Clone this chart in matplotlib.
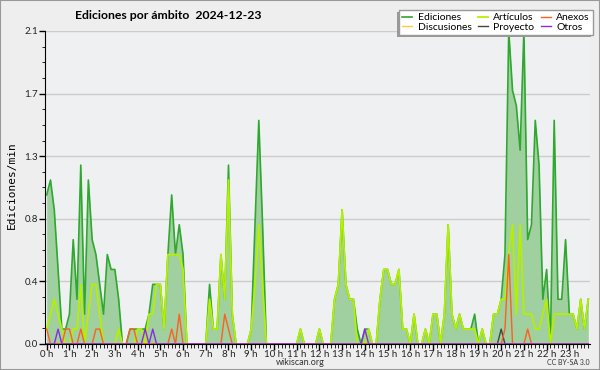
import numpy as np
import matplotlib
matplotlib.use("Agg")
import matplotlib.pyplot as plt
from matplotlib.patches import Rectangle
from matplotlib.transforms import IdentityTransform

# edits per minute, one value every 10 minutes (144 slots)
ediciones = [
    1.0, 1.1, 0.9, 0.5, 0.1, 0.1,
    0.2, 0.7, 0.3, 1.2, 0.2, 1.1,
    0.7, 0.6, 0.4, 0.2, 0.6, 0.5,
    0.5, 0.3, 0, 0, 0.1, 0.1,
    0.1, 0.1, 0.1, 0.2, 0.4, 0.4,
    0.4, 0.1, 0.6, 1.0, 0.6, 0.8,
    0.6, 0, 0, 0, 0, 0,
    0, 0.4, 0.1, 0.1, 0.6, 0.3,
    1.2, 0.2, 0, 0, 0, 0,
    0.1, 0.8, 1.5, 0.8, 0, 0,
    0, 0, 0, 0, 0, 0,
    0, 0.1, 0, 0, 0, 0,
    0.1, 0, 0, 0, 0.3, 0.4,
    0.9, 0.4, 0.3, 0.3, 0.1, 0,
    0.1, 0.1, 0, 0, 0.3, 0.5,
    0.5, 0.4, 0.4, 0.5, 0.1, 0.1,
    0, 0.2, 0, 0, 0.1, 0,
    0.2, 0.2, 0, 0.2, 0.8, 0.2,
    0.1, 0.2, 0.1, 0.1, 0.1, 0.2,
    0, 0.1, 0, 0, 0.2, 0.2,
    0.3, 0.6, 2.1, 1.7, 1.6, 1.3,
    2.1, 0.7, 0.8, 1.5, 1.2, 0.3,
    0.5, 0, 1.5, 0.3, 0.3, 0.7,
    0.2, 0.2, 0.1, 0.3, 0.1, 0.3,
]
articulos = [
    0.1, 0.2, 0.3, 0.2, 0.1, 0,
    0, 0.1, 0.1, 0.4, 0, 0.2,
    0.4, 0.4, 0.2, 0, 0, 0,
    0, 0.1, 0, 0, 0, 0,
    0.1, 0.1, 0, 0.2, 0.2, 0.4,
    0.4, 0.1, 0.6, 0.6, 0.6, 0.6,
    0.5, 0, 0, 0, 0, 0,
    0, 0.3, 0.1, 0.1, 0.6, 0.3,
    1.1, 0.2, 0, 0, 0, 0,
    0.1, 0.4, 0.8, 0.4, 0, 0,
    0, 0, 0, 0, 0, 0,
    0, 0.1, 0, 0, 0, 0,
    0.1, 0, 0, 0, 0.3, 0.4,
    0.9, 0.4, 0.3, 0.3, 0, 0,
    0, 0.1, 0, 0, 0.3, 0.5,
    0.5, 0.4, 0.4, 0.5, 0.1, 0.1,
    0, 0.2, 0, 0, 0.1, 0,
    0.2, 0.2, 0, 0.2, 0.8, 0.2,
    0.1, 0.2, 0.1, 0.1, 0.1, 0.1,
    0, 0.1, 0, 0, 0.2, 0.2,
    0.3, 0.3, 0.6, 0.8, 0.2, 0.8,
    0.2, 0.2, 0.2, 0.1, 0.1, 0.2,
    0.3, 0, 0.2, 0.2, 0.2, 0.2,
    0.2, 0.2, 0.1, 0.3, 0.1, 0.3,
]
# sparse series: slot index -> value
anexos_pts = {0: 0.1, 5: 0.1, 6: 0.1, 9: 0.1, 13: 0.1, 14: 0.1, 22: 0.1, 23: 0.1,
              33: 0.1, 35: 0.2, 47: 0.2, 48: 0.1, 121: 0.1, 122: 0.6, 127: 0.1}
otros_pts = {3: 0.1, 26: 0.1, 28: 0.1, 84: 0.1}
proyecto_pts = {120: 0.1}
discusiones_pts = {}

hour_labels = [f"{h} h" for h in range(24)]
y_ticks = [0, 0.42, 0.84, 1.26, 1.68, 2.1]

n = len(ediciones)
x = np.arange(n)

def sparse(pts):
    s = np.zeros(n)
    for k, v in pts.items():
        s[k] = v
    return s

anexos = sparse(anexos_pts)
otros = sparse(otros_pts)
proyecto = sparse(proyecto_pts)
discusiones = sparse(discusiones_pts)

plt.rcParams["font.family"] = ["Lato", "DejaVu Sans"]

fig = plt.figure(figsize=(6, 3.7), dpi=100, facecolor="#eeeeee")
ax = fig.add_axes([0.075, 0.0703, 0.908, 0.846])
ax.set_facecolor("#eff0f1")

ax.fill_between(x, ediciones, color="#a0cfa0", lw=0, zorder=2)
ax.plot(x, ediciones, color="#2fa82f", lw=1.2, zorder=3, label="Ediciones")
ax.plot(x, discusiones, color="#ffcc33", lw=1.0, zorder=3, label="Discusiones")
ax.plot(x, articulos, color="#b4f000", lw=1.3, zorder=4, label="Artículos")
ax.plot(x, proyecto, color="#444444", lw=1.0, zorder=5, label="Proyecto")
ax.plot(x, anexos, color="#ff5f1f", lw=1.0, zorder=5, label="Anexos")
ax.plot(x, otros, color="#8a2be2", lw=1.0, zorder=5, label="Otros")

ax.set_xlim(-0.45, 143.4)
ax.set_ylim(0, 2.1)
ax.set_yticks(y_ticks)
ax.set_yticklabels([f"{v:.1f}" for v in y_ticks])
ax.set_yticks(np.arange(0, 2.1001, 0.105), minor=True)
ax.set_xticks(np.arange(0, 144, 6))
ax.set_xticklabels(hour_labels)
ax.set_xticks(x, minor=True)
ax.grid(axis="y", color="#cccccc", lw=1, zorder=1)
ax.tick_params(axis="both", which="major", labelsize=7, length=4, width=1, pad=1,
               labelcolor="#222222")
ax.tick_params(axis="x", which="major", pad=0.5)
ax.tick_params(axis="y", which="minor", length=2)
ax.tick_params(axis="x", which="minor", length=3)
for side in ("top", "right"):
    ax.spines[side].set_visible(False)

fig.text(0.125, 0.957, "Ediciones por ámbito  2024-12-23", fontsize=8.8,
         fontweight="bold", va="center", ha="left")
fig.text(0.02, 0.5, "Ediciones/min", rotation=90, fontsize=8,
         family="DejaVu Sans Mono", va="center", ha="center")
fig.text(0.5, 0.021, "wikiscan.org", fontsize=6.5, color="#333333",
         ha="center", va="center")
fig.text(0.982, 0.02, "CC BY-SA 3.0", fontsize=5, color="#333333",
         ha="right", va="center")

leg = ax.legend(ncol=3, loc="upper right", bbox_to_anchor=(0.988, 0.973),
                bbox_transform=fig.transFigure, borderaxespad=0, fontsize=7.5,
                frameon=True, fancybox=False, shadow=False,
                handlelength=1.0, handletextpad=0.5, columnspacing=0.6,
                labelspacing=0.0, borderpad=0.3, framealpha=1)
leg.get_frame().set_edgecolor("#999999")
leg.set_zorder(10)

# offset shadow to the lower left of the legend box
fig.canvas.draw()
bb = leg.get_frame().get_window_extent()
ax.add_patch(Rectangle((bb.x0 - 2, bb.y0 - 2), bb.width, bb.height,
                       transform=IdentityTransform(), facecolor="#999999",
                       edgecolor="none", zorder=9, clip_on=False))

fig.patches.append(Rectangle((0, 0), 1, 1, transform=fig.transFigure,
                             fill=False, edgecolor="#999999", lw=1.5))

fig.savefig("out.png", dpi=100, facecolor=fig.get_facecolor())
